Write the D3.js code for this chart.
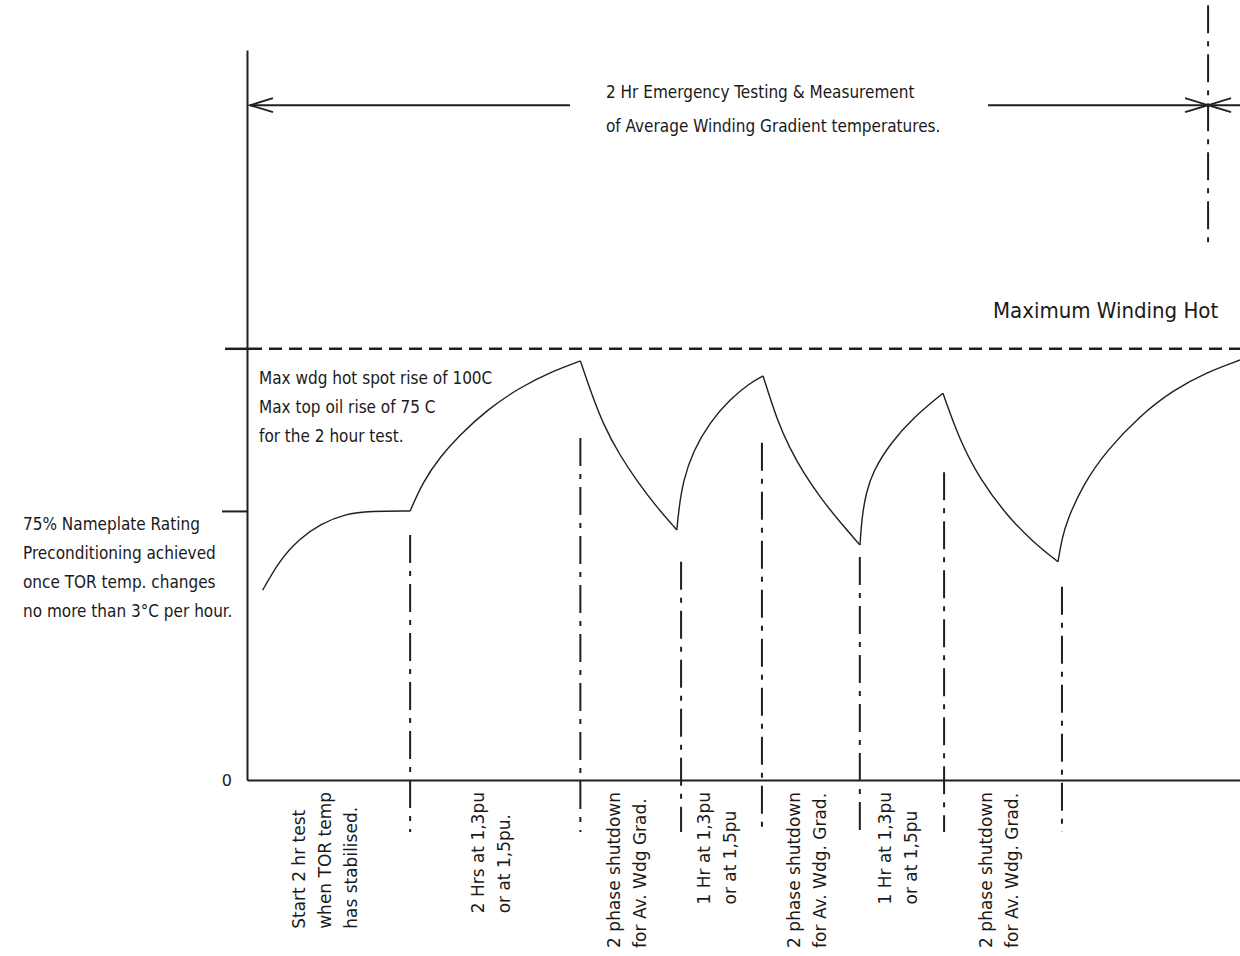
<!DOCTYPE html>
<html>
<head>
<meta charset="utf-8">
<script src="https://cdn.jsdelivr.net/npm/d3@7"></script>
<style>
    body { margin: 0; background: #fff; }
    svg text { fill: #1a1a1a; }
    .cad { font-family: "DejaVu Sans Condensed", "DejaVu Sans", sans-serif; }
    .lbl { font-family: "DejaVu Sans", sans-serif; }
</style>
</head>
<body>
<svg id="chart" width="1240" height="956"></svg>
<script>
// x = minutes from start of test, y = temperature rise (°C)
const preconditioning = [[11, 44], [23, 51], [37, 56], [52, 59.4], [69, 61.7], [87, 62.4], [115, 62.4]];
const heatRun2hr = [[115, 62.4], [124, 69.1], [136, 74.9], [150, 80], [169, 85.8], [192.5, 91.1], [216, 94.9], [235, 97.2]];
const shutdown1 = [[235, 97.2], [242, 90.4], [251, 82.5], [263, 75.2], [275, 69.3], [289, 63.2], [303, 58]];
const heatRun1hrA = [[303, 58], [304.5, 63], [307.4, 69.3], [314.4, 76.3], [326.4, 83], [340.5, 88.3], [354.6, 92.1], [363.8, 93.7]];
const shutdown2 = [[363.8, 93.7], [373.6, 83.5], [382.8, 76.8], [392, 71.4], [403.9, 65.6], [418, 59.8], [432.1, 54.5]];
const heatRun1hrB = [[432.1, 54.5], [433.5, 61], [436.4, 66.6], [441.3, 71.6], [453.3, 78], [469.5, 84], [490.6, 89.7]];
const shutdown3 = [[490.6, 89.7], [502.6, 78.6], [516.7, 69.8], [535.7, 61.3], [554.1, 55.2], [571.7, 50.6]];
const finalHeat = [[571.7, 50.6], [574.5, 56], [578.1, 60.2], [589.3, 68.5], [606.2, 76.5], [629.5, 84.5], [652.8, 90.4], [676.7, 94.6], [700, 97.4]];

const phaseEnds = [115, 235, 306, 363, 432, 491.4, 574.5];
const phaseLineTops = [56.8, 79.3, 50.6, 78.2, 51.7, 71.4, 44.8];
const phaseLabels = [
    ["Start 2 hr test", "when TOR temp", "has stabilised."],
    ["2 Hrs at 1,3pu", "or at 1,5pu."],
    ["2 phase shutdown", "for Av. Wdg Grad."],
    ["1 Hr at 1,3pu", "or at 1,5pu"],
    ["2 phase shutdown", "for Av. Wdg. Grad."],
    ["1 Hr at 1,3pu", "or at 1,5pu"],
    ["2 phase shutdown", "for Av. Wdg. Grad."]
];

const maxHotSpotRise = 100;
const ratedLevel = 62.4;
const emergencySpan = [0, 677.5];
const emergencyLevel = 156.5;
const emergencyMark = [179.7, 123.4]; // dash-dot marker at end of span (top, bottom)

const topNote = ["2 Hr Emergency Testing & Measurement", "of Average Winding Gradient temperatures."];
const hotSpotNote = ["Max wdg hot spot rise of 100C", "Max top oil rise of 75 C", "for the 2 hour test."];
const precondNote = ["75% Nameplate Rating", "Preconditioning achieved", "once TOR temp. changes", "no more than 3°C per hour."];
const maxLabel = "Maximum Winding Hot";

const ink = "#1f1f1f";

const svg = d3.select("#chart");
const margin = { top: 50, right: 0, bottom: 176, left: 247 };
const width = +svg.attr("width") - margin.left - margin.right;
const height = +svg.attr("height") - margin.top - margin.bottom;

const g = svg.append("g").attr("transform", "translate(" + margin.left + "," + margin.top + ")");

const x = d3.scaleLinear().domain([0, 700]).range([0, width]);
const y = d3.scaleLinear().domain([0, 169.3]).range([height, 0]);

// axes
const yAxis = g.append("g")
    .call(d3.axisLeft(y)
        .tickValues([0, ratedLevel])
        .tickSize(25)
        .tickSizeOuter(0)
        .tickPadding(-10)
        .tickFormat(d => d === 0 ? "0" : ""));
yAxis.selectAll(".tick").filter(d => d === 0).select("line").remove();
yAxis.selectAll("line, path").attr("stroke", ink).attr("stroke-width", 2);
yAxis.selectAll("text")
    .attr("class", "lbl")
    .attr("font-size", 16)
    .attr("fill", ink);

const xAxis = g.append("g")
    .attr("transform", `translate(0,${height})`)
    .call(d3.axisBottom(x).tickValues([]).tickSizeOuter(0));
xAxis.select("path").attr("stroke", ink).attr("stroke-width", 2);

// max hot spot level
g.append("line")
    .attr("x1", -22).attr("x2", 2)
    .attr("y1", y(maxHotSpotRise)).attr("y2", y(maxHotSpotRise))
    .attr("stroke", ink).attr("stroke-width", 2.5);
g.append("line")
    .attr("x1", 2).attr("x2", width)
    .attr("y1", y(maxHotSpotRise)).attr("y2", y(maxHotSpotRise))
    .attr("stroke", ink).attr("stroke-width", 2.5)
    .attr("stroke-dasharray", "13,7");

// phase separators
const dashDot = "28,8,5,8";
g.selectAll(".phase-line")
    .data(phaseEnds)
    .enter().append("line")
    .attr("class", "phase-line")
    .attr("x1", d => x(d)).attr("x2", d => x(d))
    .attr("y1", (d, i) => y(phaseLineTops[i]))
    .attr("y2", height + 52)
    .attr("stroke", ink).attr("stroke-width", 2)
    .attr("stroke-dasharray", dashDot);

// temperature curve, one smooth piece per phase
const line = d3.line()
    .x(d => x(d[0]))
    .y(d => y(d[1]))
    .curve(d3.curveBasis);

const segments = [preconditioning, heatRun2hr, shutdown1, heatRun1hrA, shutdown2, heatRun1hrB, shutdown3, finalHeat];
g.selectAll(".seg")
    .data(segments)
    .enter().append("path")
    .attr("class", "seg")
    .attr("fill", "none")
    .attr("stroke", ink)
    .attr("stroke-width", 1.4)
    .attr("d", line);

// emergency span arrow
const ay = y(emergencyLevel);
const leftTip = x(emergencySpan[0]) + 3;
const rightTip = x(emergencySpan[1]);
g.append("line").attr("x1", leftTip).attr("x2", x(227.7)).attr("y1", ay).attr("y2", ay)
    .attr("stroke", ink).attr("stroke-width", 2);
g.append("line").attr("x1", x(522.4)).attr("x2", width).attr("y1", ay).attr("y2", ay)
    .attr("stroke", ink).attr("stroke-width", 2);

const head = (tip, dir) => `M${tip + dir * 23},${ay - 7}L${tip},${ay}L${tip + dir * 23},${ay + 7}`;
[head(leftTip, 1), head(rightTip, -1), head(rightTip, 1)].forEach(d => {
    g.append("path").attr("d", d).attr("fill", "none")
        .attr("stroke", ink).attr("stroke-width", 1.8);
});

g.append("line")
    .attr("x1", rightTip).attr("x2", rightTip)
    .attr("y1", y(emergencyMark[0])).attr("y2", y(emergencyMark[1]))
    .attr("stroke", ink).attr("stroke-width", 2)
    .attr("stroke-dasharray", dashDot);

// notes
function note(lines, x0, y0, step, size) {
    svg.append("g").selectAll("text")
        .data(lines)
        .enter().append("text")
        .attr("class", "cad")
        .attr("x", x0)
        .attr("y", (d, i) => y0 + i * step)
        .attr("font-size", size)
        .text(d => d);
}
note(topNote, 606, 98, 34, 17);
note(hotSpotNote, 259, 384, 29, 17);
note(precondNote, 23, 530, 29, 17);
note([maxLabel], 993, 318, 0, 22);

// rotated phase labels under the axis
phaseLabels.forEach((lines, i) => {
    const x0 = i === 0 ? 0 : phaseEnds[i - 1];
    const mid = (x(x0) + x(phaseEnds[i])) / 2 - 4;
    const grp = g.append("g");
    const texts = grp.selectAll("text")
        .data(lines)
        .enter().append("text")
        .attr("class", "lbl")
        .attr("font-size", 17)
        .attr("dy", "0.35em")
        .text(d => d);
    const maxLen = d3.max(texts.nodes(), n => n.getComputedTextLength());
    const bottom = height + 12 + maxLen;
    texts.attr("transform", (d, j) =>
        `translate(${mid + (j - (lines.length - 1) / 2) * 26},${bottom}) rotate(-90)`);
});
</script>
</body>
</html>
